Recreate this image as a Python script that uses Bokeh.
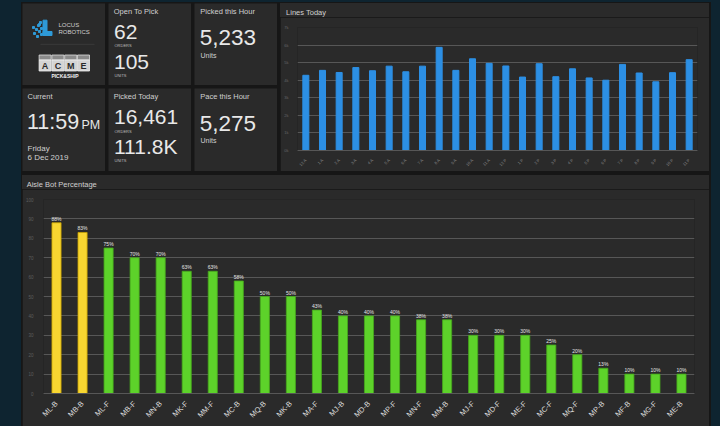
from bokeh.plotting import figure
from bokeh.models import ColumnDataSource, Range1d, FactorRange, LabelSet, FixedTicker, Div
from bokeh.layouts import row, column
from bokeh.embed import file_html
from bokeh.resources import INLINE
from bokeh.core.properties import value

# ---------------- data ----------------
open_to_pick = ["62", "105"]
picked_today = ["16,461", "111.8K"]
picked_this_hour = "5,233"
pace_this_hour = "5,275"
current_time = "11:59"
current_ampm = "PM"
current_day = "Friday"
current_date = "6 Dec 2019"

hours = ["12 A", "1 A", "2 A", "3 A", "4 A", "5 A", "6 A", "7 A", "8 A", "9 A", "10 A", "11 A",
         "12 P", "1 P", "2 P", "3 P", "4 P", "5 P", "6 P", "7 P", "8 P", "9 P", "10 P", "11 P"]
lines_today = [4280, 4560, 4440, 4720, 4540, 4800, 4480, 4800, 5870, 4560, 5220, 4960,
               4810, 4180, 4940, 4200, 4650, 4130, 4000, 4900, 4410, 3910, 4430, 5170]
lines_ticks = [0, 1000, 2000, 3000, 4000, 5000, 6000, 7000]
lines_tick_labels = ["0k", "1k", "2k", "3k", "4k", "5k", "6k", "7k"]

aisles = ["ML-B", "MB-B", "ML-F", "MB-F", "MN-B", "MK-F", "MM-F", "MC-B", "MQ-B", "MK-B",
          "MA-F", "MJ-B", "MD-B", "MP-F", "MN-F", "MM-B", "MJ-F", "MD-F", "ME-F", "MC-F",
          "MQ-F", "MP-B", "MF-B", "MG-F", "ME-B"]
aisle_pct = [88, 83, 75, 70, 70, 63, 63, 58, 50, 50, 43, 40, 40, 40, 38, 38, 30, 30, 30, 25,
             20, 13, 10, 10, 10]
aisle_ticks = [0, 10, 20, 30, 40, 50, 60, 70, 80, 90, 100]
aisle_tick_labels = ["0", "10", "20", "30", "40", "50", "60", "70", "80", "90", "100"]

# ---------------- styles ----------------
FONT = "Liberation Sans"
PAGE_BG = "#0e2430"
GAP_BG = "#161616"
PANEL_BG = "#2a2a2a"
TXT = "#e8e8e8"
SUB = "#d0d0d0"
SMALL = "#bdbdbd"


def panel(w, h):
    p = figure(width=w, height=h, x_range=Range1d(0, w), y_range=Range1d(h, 0),
               x_axis_type=None, y_axis_type=None, toolbar_location=None,
               output_backend="svg", min_border=0, outline_line_color=None,
               background_fill_color=PANEL_BG, border_fill_color=PANEL_BG)
    return p


def txt(p, x, y, s, size, color=TXT, style="normal", align="left"):
    p.text(x=[x], y=[y], text=[s], text_font=value(FONT), text_font_size=f"{size}px",
           text_color=color, text_baseline="middle", text_align=align,
           text_font_style=style)


def title_strip(w, h, s, left, center):
    html = (f'<div style="margin:{center - 6:.1f}px 0 0 {left:.1f}px; font-family:\'{FONT}\';'
            f' font-size:7.5px; line-height:12px; color:{SUB}; white-space:nowrap;">{s}</div>')
    return Div(text=html, width=w, height=h, margin=0,
               styles={"background-color": PANEL_BG, "overflow": "hidden"})


# ---- logo panel ----
logo = panel(83, 82)
blue = "#2e9ad8"
logo.rect(x=[22.5], y=[24.2], width=4, height=15, color=blue)
logo.rect(x=[25], y=[30], width=9, height=4, color=blue)
logo.rect(x=[18, 16, 19, 14, 17, 12, 19, 15, 11, 17],
          y=[19, 22, 25, 26, 28, 30, 31, 33, 24, 21],
          width=2, height=2, color=blue)
txt(logo, 36, 21.2, "LOCUS", 6, color=SUB)
txt(logo, 36, 28.2, "ROBOTICS", 6, color=SUB)
logo.segment(x0=[18], y0=[40.8], x1=[72], y1=[40.8], line_color="#3a3a3a", line_width=1)
acme_x = [22.6, 35.4, 48.2, 61.0]
logo.rect(x=acme_x, y=[54] * 4, width=12, height=5, fill_color="#8a8a8a",
          line_color="#dddddd", line_width=0.8)
logo.rect(x=acme_x, y=[62] * 4, width=12, height=11, fill_color="#d4d4d4",
          line_color="#f0f0f0", line_width=0.8)
logo.text(x=acme_x, y=[62.5] * 4, text=["A", "C", "M", "E"], text_font=value(FONT),
          text_font_size="9px", text_font_style="bold", text_color="#2a2a2a",
          text_align="center", text_baseline="middle")
txt(logo, 42.5, 72.5, "PICK&SHIP", 5, color="#f0f0f0", style="bold", align="center")

# ---- open to pick ----
openp = panel(83, 82)
txt(openp, 5.2, 7.6, "Open To Pick", 7.5, color=SUB)
txt(openp, 5.5, 28.7, open_to_pick[0], 21)
txt(openp, 6, 41.9, "ORDERS", 4, color=SMALL)
txt(openp, 5.5, 58.1, open_to_pick[1], 21)
txt(openp, 6, 71.7, "UNITS", 4, color=SMALL)

# ---- picked this hour ----
phour = panel(83, 82)
txt(phour, 5.8, 7.6, "Picked this Hour", 7.5, color=SUB)
txt(phour, 5.3, 33.9, picked_this_hour, 22.5)
txt(phour, 6, 51.7, "Units", 7, color=SUB)

# ---- current ----
cur = panel(83, 83)
txt(cur, 5, 8.1, "Current", 7.5, color=SUB)
txt(cur, 4.5, 33.6, current_time, 21.5)
txt(cur, 59, 36.8, current_ampm, 12.5)
txt(cur, 5, 59.9, current_day, 8, color=SUB)
txt(cur, 5, 69, current_date, 8, color=SUB)

# ---- picked today ----
ptoday = panel(83, 83)
txt(ptoday, 5.2, 8.1, "Picked Today", 7.5, color=SUB)
txt(ptoday, 5.5, 28.7, picked_today[0], 21)
txt(ptoday, 6, 42.5, "ORDERS", 4, color=SMALL)
txt(ptoday, 5.5, 58.1, picked_today[1], 21)
txt(ptoday, 6, 72, "UNITS", 4, color=SMALL)

# ---- pace this hour ----
pace = panel(83, 83)
txt(pace, 5.8, 8.1, "Pace this Hour", 7.5, color=SUB)
txt(pace, 5.3, 34.9, pace_this_hour, 22.5)
txt(pace, 6, 52.3, "Units", 7, color=SUB)


def style_chart(p):
    p.xgrid.grid_line_color = None
    p.ygrid.grid_line_color = "#575757"
    p.ygrid.grid_line_width = 1
    p.yaxis.axis_line_color = None
    p.yaxis.major_tick_line_color = None
    p.yaxis.minor_tick_line_color = None
    p.xaxis.axis_line_color = "#575757"
    p.xaxis.major_tick_line_color = None
    p.xaxis.minor_tick_line_color = None
    p.xaxis.major_label_orientation = 0.785
    p.axis.major_label_text_font = FONT


STRIP = 14

# ---- lines today ----
LW, LH = 429, 168
lines_title = title_strip(LW, STRIP, "Lines Today", 6.1, 7.8)
lp = figure(width=LW, height=LH - STRIP, x_range=FactorRange(factors=hours),
            y_range=Range1d(0, 7000), toolbar_location=None, output_backend="svg",
            min_border_left=17, min_border_right=12, min_border_top=24 - STRIP,
            min_border_bottom=21,
            background_fill_color=PANEL_BG, border_fill_color=PANEL_BG,
            outline_line_color=None)
lp.vbar(x=hours, top=lines_today, width=0.36, fill_color="#2c8fe4", line_color="#2c8fe4")
style_chart(lp)
lp.yaxis.ticker = FixedTicker(ticks=lines_ticks)
lp.yaxis.major_label_overrides = dict(zip(lines_ticks, lines_tick_labels))
lp.yaxis.major_label_text_font_size = "4px"
lp.yaxis.major_label_text_color = "#666666"
lp.yaxis.major_label_standoff = 3
lp.xaxis.major_label_text_font_size = "4px"
lp.xaxis.major_label_text_color = "#8a8a8a"
lp.xaxis.major_label_standoff = 3

# ---- aisle bot percentage ----
src = ColumnDataSource(dict(
    aisle=aisles, pct=aisle_pct,
    label=[f"{v}%" for v in aisle_pct],
    color=["#f8d631" if v >= 80 else "#5dd22a" for v in aisle_pct],
    edge=["#c9a300" if v >= 80 else "#46a81c" for v in aisle_pct],
))
AW, AH = 687, 251
aisle_title = title_strip(AW, STRIP, "Aisle Bot Percentage", 4.7, 7.1)
ap = figure(width=AW, height=AH - STRIP, x_range=FactorRange(factors=aisles),
            y_range=Range1d(0, 100), toolbar_location=None, output_backend="svg",
            min_border_left=18, min_border_right=15, min_border_top=24 - STRIP,
            min_border_bottom=33,
            background_fill_color=PANEL_BG, border_fill_color=PANEL_BG,
            outline_line_color=None)
ap.vbar(x="aisle", top="pct", width=0.35, fill_color="color", line_color="edge",
        line_width=0.8, source=src)
ap.add_layout(LabelSet(x="aisle", y="pct", text="label", source=src, text_align="center",
                       text_baseline="bottom", y_offset=1, text_font=value(FONT),
                       text_font_size="5px", text_color="#e6e6e6"))
style_chart(ap)
ap.yaxis.ticker = FixedTicker(ticks=aisle_ticks)
ap.yaxis.major_label_overrides = dict(zip(aisle_ticks, aisle_tick_labels))
ap.yaxis.major_label_text_font_size = "4.5px"
ap.yaxis.major_label_text_color = "#5e5e5e"
ap.yaxis.major_label_standoff = 4
ap.xaxis.major_label_text_font_size = "7.5px"
ap.xaxis.major_label_text_color = "#dddddd"
ap.xaxis.major_label_standoff = 3

# ---------------- layout ----------------
left_grid = column(row(logo, openp, phour, spacing=3),
                   row(cur, ptoday, pace, spacing=3), spacing=3)
lines_block = column(lines_title, lp)
top = row(left_grid, lines_block, spacing=3, margin=(1, 2, 0, 1))
aisle_block = column(aisle_title, ap, margin=(0, 2, 0, 1))
inner = column(top, aisle_block, spacing=4, margin=(2, 9, 0, 21),
               styles={"background-color": GAP_BG})
root = column(inner, styles={"background-color": PAGE_BG, "margin-bottom": "-8px"})

open("out.html", "w").write(file_html(root, INLINE, title="Dashboard"))
